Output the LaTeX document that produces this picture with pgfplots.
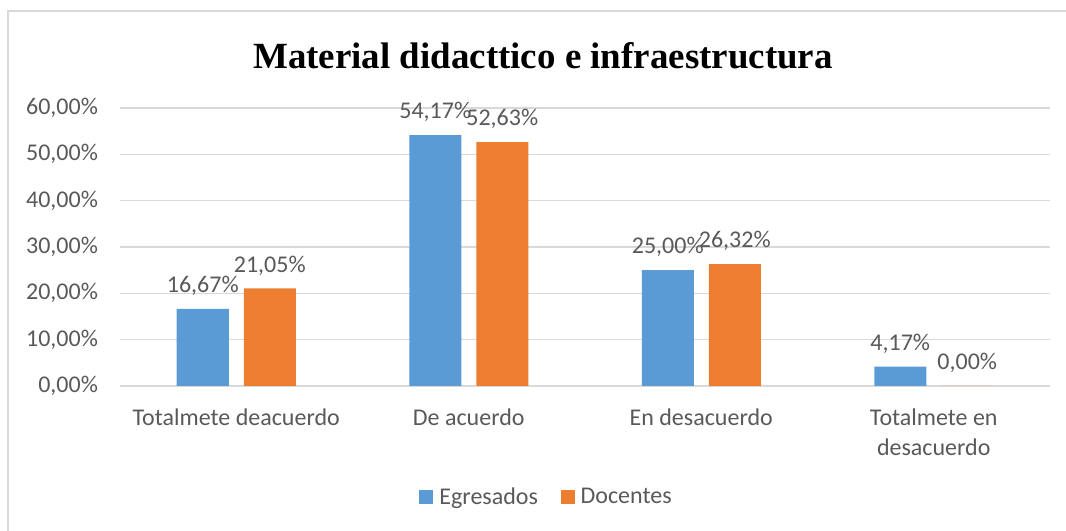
\documentclass[border=0pt]{standalone}
\usepackage{pgfplots}
\pgfplotsset{compat=1.18}
\usepackage{fontspec}
\setmainfont{Carlito}
\newfontfamily\titlefont{Liberation Serif}

\definecolor{egre}{HTML}{5B9BD5}
\definecolor{doce}{HTML}{ED7D31}
\definecolor{txt}{HTML}{595959}
\definecolor{grd}{HTML}{D9D9D9}

\begin{document}
\begin{tikzpicture}
\useasboundingbox (-90pt,-108.75pt) rectangle (709.5pt,289.5pt);
% chart frame (left and top edges visible)
\draw[grd, line width=1.5pt] (-84pt,-108.75pt) -- (-84pt,281.25pt) -- (709.5pt,281.25pt);

\begin{axis}[
    at={(0pt,0pt)}, anchor=south west,
    scale only axis,
    width=697.5pt, height=208.5pt,
    ybar=11.25pt,
    bar width=39pt,
    xmin=-0.5, xmax=3.5,
    ymin=0, ymax=60,
    xtick={0,1,2,3},
    xticklabels={Totalmete deacuerdo, De acuerdo, En desacuerdo, {Totalmete en\\desacuerdo}},
    ytick={0,10,20,30,40,50,60},
    yticklabels={{0,00\%},{10,00\%},{20,00\%},{30,00\%},{40,00\%},{50,00\%},{60,00\%}},
    major tick length=0pt,
    axis line style={draw=none},
    ymajorgrids=true,
    grid style={grd, line width=0.9pt},
    tick label style={font=\fontsize{18}{22.5}\selectfont, text=txt},
    xticklabel style={align=center, yshift=-13.5pt},
    yticklabel style={xshift=-13pt},
    /pgf/number format/assume math mode=true,
    nodes near coords={\pgfmathprintnumber[fixed, precision=2, zerofill, use comma]{\pgfplotspointmeta}\%},
    every node near coord/.append style={font=\fontsize{18}{21.75}\selectfont, text=txt, yshift=6.5pt},
    legend style={at={(0.459,-0.399)}, anchor=center, draw=none, fill=none,
        legend columns=2, font=\fontsize{18}{21.75}\selectfont, text=txt,
        /tikz/every odd column/.append style={column sep=2.5pt},
        /tikz/every even column/.append style={column sep=15pt}},
    legend image code/.code={\fill[#1] (0pt,-5.25pt) rectangle (10.5pt,5.25pt);},
]
\addplot[fill=egre, draw=none] coordinates {(0,16.67) (1,54.17) (2,25.00) (3,4.17)};
\addlegendentry{Egresados}
\addplot[fill=doce, draw=none] coordinates {(0,21.05) (1,52.63) (2,26.32) (3,0.00)};
\addlegendentry{Docentes}
\end{axis}

\node[anchor=base, font=\titlefont\bfseries\fontsize{27.7}{32}\selectfont] at (317.25pt,237.75pt) {Material didacttico e infraestructura};
\end{tikzpicture}
\end{document}
